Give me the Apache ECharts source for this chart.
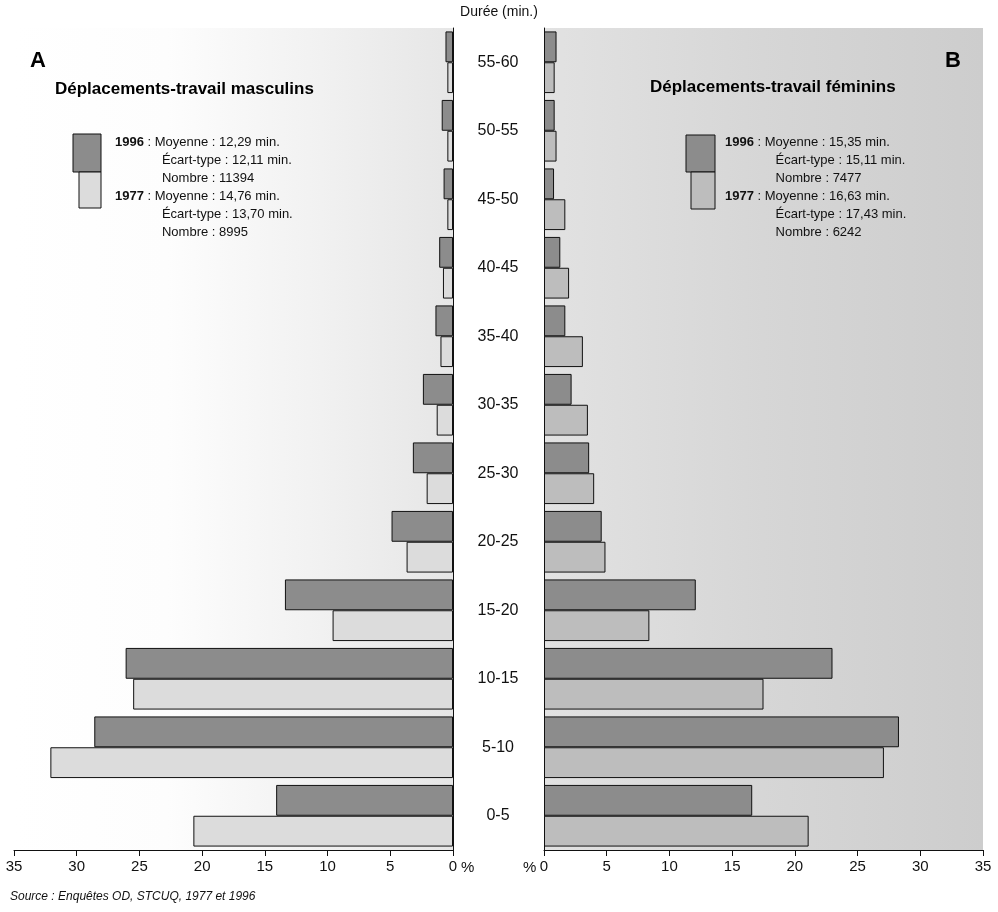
<!DOCTYPE html>
<html>
<head>
<meta charset="utf-8">
<script src="https://cdn.jsdelivr.net/npm/echarts@6/dist/echarts.min.js"></script>
<style>
  html, body { margin: 0; padding: 0; background: #fff; }
  #main { width: 998px; height: 912px; }
</style>
</head>
<body>
<div id="main"></div>
<script>
// durée (min.) classes, bottom to top
var categories = ['0-5', '5-10', '10-15', '15-20', '20-25', '25-30', '30-35', '35-40', '40-45', '45-50', '50-55', '55-60'];

// A : déplacements-travail masculins (%)
var male1996 = [14.1, 28.6, 26.1, 13.4, 4.9, 3.2, 2.4, 1.4, 1.1, 0.75, 0.9, 0.6];
var male1977 = [20.7, 32.1, 25.5, 9.6, 3.7, 2.1, 1.3, 1.0, 0.8, 0.45, 0.45, 0.45];

// B : déplacements-travail féminins (%)
var female1996 = [16.6, 28.3, 23.0, 12.1, 4.6, 3.6, 2.2, 1.7, 1.3, 0.8, 0.85, 1.0];
var female1977 = [21.1, 27.1, 17.5, 8.4, 4.9, 4.0, 3.5, 3.1, 2.0, 1.7, 1.0, 0.85];

var xTicks = [0, 5, 10, 15, 20, 25, 30, 35];

var FONT = 'Liberation Sans, Arial, sans-serif';
var DARK = '#8c8c8c';
var LIGHT_A = '#dcdcdc';
var LIGHT_B = '#bdbdbd';

var chart = echarts.init(document.getElementById('main'));

function xAxisCfg(idx, inverse) {
    return {
        type: 'value',
        gridIndex: idx,
        inverse: inverse,
        min: xTicks[0],
        max: xTicks[xTicks.length - 1],
        interval: 5,
        axisLine: { show: true, lineStyle: { color: '#111', width: 1 } },
        axisTick: { show: true, length: 6, lineStyle: { color: '#111' } },
        axisLabel: { color: '#111', fontSize: 15, fontFamily: FONT, margin: 9 },
        splitLine: { show: false }
    };
}

function barSeries(name, data, color, idx) {
    return {
        name: name,
        type: 'bar',
        xAxisIndex: idx,
        yAxisIndex: idx,
        data: data,
        barGap: '0%',
        barCategoryGap: '10%',
        itemStyle: { color: color, borderColor: '#111', borderWidth: 1 },
        silent: true
    };
}

var legendLines = function (x, lines) {
    var els = [];
    var y0 = 144;
    for (var i = 0; i < lines.length; i++) {
        els.push({
            type: 'text', left: x, top: y0 + i * 18 - 8,
            style: { text: lines[i], rich: { b: { fontWeight: 'bold', fontSize: 13, fontFamily: FONT, fill: '#111' } },
                     fontSize: 13, fontFamily: FONT, fill: '#111' }
        });
    }
    return els;
};

var graphics = [
    { type: 'text', left: 'center', top: 5, style: { text: 'Durée (min.)', fontSize: 14, fontFamily: FONT, fill: '#111' } },
    { type: 'text', left: 30, top: 50, style: { text: 'A', fontSize: 22, fontWeight: 'bold', fontFamily: FONT, fill: '#000' } },
    { type: 'text', left: 55, top: 81, style: { text: 'Déplacements-travail masculins', fontSize: 17, fontWeight: 'bold', fontFamily: FONT, fill: '#000' } },
    { type: 'text', left: 945, top: 50, style: { text: 'B', fontSize: 22, fontWeight: 'bold', fontFamily: FONT, fill: '#000' } },
    { type: 'text', left: 650, top: 79, style: { text: 'Déplacements-travail féminins', fontSize: 17, fontWeight: 'bold', fontFamily: FONT, fill: '#000' } },
    // legend swatches
    { type: 'rect', shape: { x: 73, y: 134, width: 28, height: 38 }, style: { fill: DARK, stroke: '#111', lineWidth: 1 } },
    { type: 'rect', shape: { x: 79, y: 172, width: 22, height: 36 }, style: { fill: LIGHT_A, stroke: '#111', lineWidth: 1 } },
    { type: 'rect', shape: { x: 686, y: 135, width: 29, height: 37 }, style: { fill: DARK, stroke: '#111', lineWidth: 1 } },
    { type: 'rect', shape: { x: 691, y: 172, width: 24, height: 37 }, style: { fill: LIGHT_B, stroke: '#111', lineWidth: 1 } },
    { type: 'text', left: 461, top: 860, style: { text: '%', fontSize: 15, fontFamily: FONT, fill: '#111' } },
    { type: 'text', left: 523, top: 860, style: { text: '%', fontSize: 15, fontFamily: FONT, fill: '#111' } },
    { type: 'text', left: 10, top: 891, style: { text: 'Source : Enquêtes OD, STCUQ, 1977 et 1996', fontSize: 12, fontStyle: 'italic', fontFamily: FONT, fill: '#111' } }
];
graphics = graphics.concat(legendLines(115, [
    '{b|1996} : Moyenne : 12,29 min.',
    '             Écart-type : 12,11 min.',
    '             Nombre : 11394',
    '{b|1977} : Moyenne : 14,76 min.',
    '             Écart-type : 13,70 min.',
    '             Nombre : 8995'
]));
graphics = graphics.concat(legendLines(725, [
    '{b|1996} : Moyenne : 15,35 min.',
    '              Écart-type : 15,11 min.',
    '              Nombre : 7477',
    '{b|1977} : Moyenne : 16,63 min.',
    '              Écart-type : 17,43 min.',
    '              Nombre : 6242'
]));

var option = {
    animation: false,
    backgroundColor: '#fff',
    grid: [
        {
            left: 14, width: 439, top: 28, bottom: 62, show: true, borderWidth: 0,
            backgroundColor: new echarts.graphic.LinearGradient(0, 0, 1, 0, [
                { offset: 0, color: '#ffffff' },
                { offset: 0.35, color: '#fdfdfd' },
                { offset: 0.7, color: '#f1f1f1' },
                { offset: 1, color: '#e6e6e6' }
            ])
        },
        {
            left: 544, width: 439, top: 28, bottom: 62, show: true, borderWidth: 0,
            backgroundColor: new echarts.graphic.LinearGradient(0, 0, 1, 0, [
                { offset: 0, color: '#e2e2e2' },
                { offset: 0.5, color: '#d6d6d6' },
                { offset: 1, color: '#cdcdcd' }
            ])
        }
    ],
    xAxis: [xAxisCfg(0, true), xAxisCfg(1, false)],
    yAxis: [
        {
            type: 'category', gridIndex: 0, position: 'right', data: categories,
            axisLine: { show: true, lineStyle: { color: '#111' } },
            axisTick: { show: false },
            axisLabel: { show: true, align: 'center', margin: 45, fontSize: 16, fontFamily: FONT, color: '#111' }
        },
        {
            type: 'category', gridIndex: 1, position: 'left', data: categories,
            axisLine: { show: true, lineStyle: { color: '#111' } },
            axisTick: { show: false },
            axisLabel: { show: false }
        }
    ],
    // on a category y axis the first series sits at the bottom of each band
    series: [
        barSeries('1996', male1996, DARK, 0),
        barSeries('1977', male1977, LIGHT_A, 0),
        barSeries('1996', female1996, DARK, 1),
        barSeries('1977', female1977, LIGHT_B, 1)
    ],
    graphic: graphics
};

chart.setOption(option);
</script>
</body>
</html>
